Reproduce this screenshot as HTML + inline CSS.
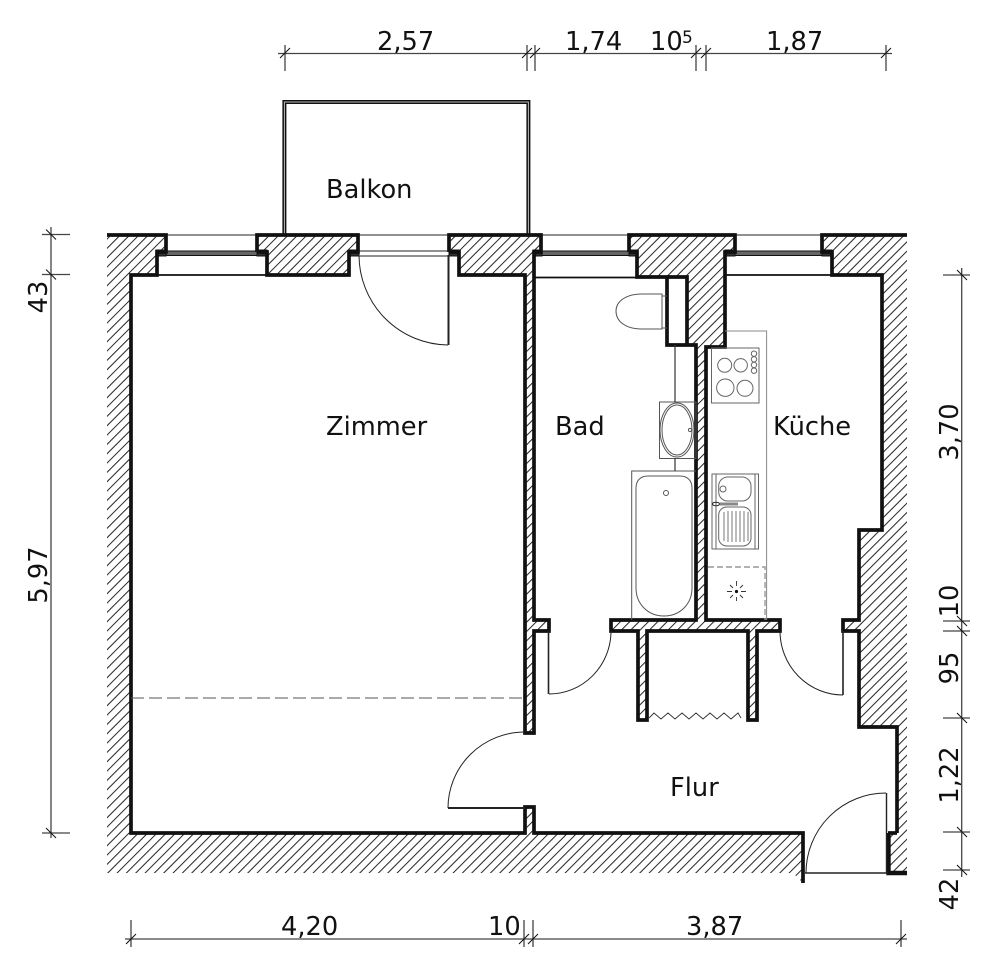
<!DOCTYPE html>
<html>
<head>
<meta charset="utf-8">
<style>
html,body{margin:0;padding:0;background:#fff}
svg{display:block}
text{font-family:"DejaVu Sans","Liberation Sans",sans-serif;font-size:25.7px;fill:#111}
</style>
</head>
<body>
<svg width="1000" height="971" viewBox="0 0 1000 971" xmlns="http://www.w3.org/2000/svg">
<defs>
<pattern id="h" patternUnits="userSpaceOnUse" width="6.6" height="6.6" patternTransform="rotate(45 0 0)">
<rect width="6.6" height="6.6" fill="#fff"/>
<rect x="0" y="0" width="1" height="6.6" fill="#222"/>
</pattern>
</defs>
<rect width="1000" height="971" fill="#fff"/>

<!-- hatch -->
<path d="M107,235H907V873H803V883L793,873H107Z" fill="url(#h)"/>
<!-- interior -->
<path fill="#fff" d="M131,833V275H157V252H166V235H257V252H267V275H349V252H358V235H449V252H459V275H525V733H534V631H549V620H534V252H541V235H629V252H637V277H687V345H696V620H611V631H638V720H647V631H748V720H757V631H780V620H706V347H725V252H735V235H822V252H832V275H882V530H859V620H843V631H859V727H897V833H888V873H803V833H534V807H525V833Z"/>
<rect x="667" y="277" width="20" height="68" fill="#fff"/>

<!-- balcony -->
<path d="M284.4,235V102H528.4V235" fill="none" stroke="#111" stroke-width="4"/>
<path d="M284.4,235V102H528.4V235" fill="none" stroke="#bbb" stroke-width="1"/>

<!-- windows -->
<g stroke="#222" stroke-width="1" fill="none">
<path d="M166,235H257M358,235H449M541,235H629M735,235H822"/>
<path d="M358,251H449M358,256H449"/>
</g>
<g fill="#666" stroke="#111" stroke-width="1">
<rect x="166" y="251" width="91" height="4.5"/>
<rect x="541" y="251" width="88" height="4.5"/>
<rect x="735" y="251" width="87" height="4.5"/>
</g>
<g fill="#333" stroke="#111" stroke-width="1">
<rect x="156" y="250" width="10" height="6"/><rect x="257" y="250" width="10" height="6"/>
<rect x="349" y="250" width="10" height="6"/><rect x="449" y="250" width="10" height="6"/>
<rect x="533" y="250" width="9" height="6"/><rect x="629" y="250" width="9" height="6"/>
<rect x="725" y="250" width="10" height="6"/><rect x="822" y="250" width="10" height="6"/>
</g>
<g stroke="#111" fill="none">
<path d="M157,275H267M534,277.5H637M725,275H832" stroke-width="1.8"/>
</g>

<!-- walls -->
<g fill="none" stroke="#111" stroke-width="3.7" stroke-linejoin="miter">
<path d="M107,235H166V252H157V275H131V833H525V807H534V833H803V883"/>
<path d="M257,252V235H358V252H349V275H267V252H257"/>
<path d="M449,252V235H541V252H534V620H549V631H534V733H525V275H459V252H449"/>
<path d="M629,252V235H735V252H725V347H706V620H780V631H757V720H748V631H647V720H638V631H611V620H696V345H667V277H637V252H629"/>
<path d="M667,277H687V345"/>
<path d="M907,235H822V252H832V275H882V530H859V620H843V631H859V727H897V833"/>
<path d="M888,833H897"/>
<path d="M888.5,833V873H907" stroke-width="4.4"/>
</g>

<!-- doors -->
<g fill="none" stroke="#222">
<path d="M359,255A90,90 0 0 0 448,345" stroke-width="1"/>
<path d="M448.5,255V345" stroke-width="2"/>
<path d="M611,631A62,63 0 0 1 549,694" stroke-width="1"/>
<path d="M548.5,631V694" stroke-width="1.6"/>
<path d="M780,631A63,64 0 0 0 843,695" stroke-width="1"/>
<path d="M843,631V695" stroke-width="1.6"/>
<path d="M525,732A77,76 0 0 0 448,808" stroke-width="1"/>
<path d="M448,808H525" stroke-width="2"/>
<path d="M886,793A80,80 0 0 0 806,873" stroke-width="1"/>
<path d="M886.5,793V873" stroke-width="1.4"/>
<path d="M805,873H888" stroke-width="1.6"/>
</g>
<!-- zigzag -->
<path d="M649,718L654,713L661,719L668,713L675,719L682,713L689,719L696,713L703,719L710,713L717,719L724,713L731,719L738,713L741,718" fill="none" stroke="#333" stroke-width="0.9"/>
<!-- dashed -->
<path d="M131,698H525" fill="none" stroke="#555" stroke-width="1" stroke-dasharray="13 5"/>

<!-- bathroom -->
<g fill="none" stroke="#555" stroke-width="1">
<path d="M662,294H642C625,294 616,302 616,311C616,321 625,329 642,329L662,329Z"/>
<path d="M662,296H667M662,328H667" />
<rect x="659.5" y="402" width="36.5" height="56.5"/>
<ellipse cx="677" cy="430" rx="17" ry="27"/>
<ellipse cx="677" cy="430" rx="15" ry="25"/>
<circle cx="690" cy="430" r="1.6"/>
<path d="M631.7,620V471H696"/>
<path d="M636,488C636,480 641,476 648,476H680C687,476 692,480 692,488V588C692,604 680,616 664,616C648,616 636,604 636,588Z"/>
<circle cx="666" cy="493" r="2.5"/>
</g>
<path d="M675,345V402M675,458V471" stroke="#333" stroke-width="1.2" fill="none"/>

<!-- kitchen -->
<g fill="none" stroke="#666" stroke-width="1">
<path d="M725,331H766.6V620" stroke="#888"/>
<rect x="711.5" y="348" width="47.5" height="55"/>
<circle cx="724.7" cy="365.3" r="7"/>
<circle cx="740.7" cy="365.3" r="6.7"/>
<circle cx="725.3" cy="387.7" r="8.7"/>
<circle cx="745" cy="388.3" r="8"/>
<circle cx="754" cy="353.7" r="2.7"/>
<circle cx="754" cy="359.3" r="2.7"/>
<circle cx="754" cy="365" r="2.7"/>
<circle cx="754" cy="370.7" r="2.7"/>
<rect x="712" y="474" width="46.5" height="75"/>
<path d="M716,474V549M755,474V549"/>
<rect x="718.7" y="477" width="32.3" height="24" rx="9"/>
<circle cx="723" cy="489" r="3"/>
<rect x="718.7" y="507" width="32.3" height="39" rx="8"/>
<path d="M724,512V541M728,511V542M732,511V542M736,511V542M740,511V542M744,511V542M748,512V541" stroke="#777"/>
<ellipse cx="716" cy="504" rx="3.5" ry="1.8" stroke="#222"/>
<path d="M720,504H738" stroke="#888" stroke-width="3"/>
<path d="M708,567H765V620" stroke="#999" stroke-width="1.4" stroke-dasharray="6 3"/>
<path d="M736.5,581V586M736.5,597V601M727,591.5H732M741,591.5H746M730,585L733,588M743,585L740,588M730,598L733,595M743,598L740,595" stroke="#333" stroke-width="0.9"/>
</g>
<circle cx="736.5" cy="591.5" r="1.6" fill="#111"/>

<!-- dimension lines -->
<g fill="none" stroke="#444" stroke-width="1.3">
<path d="M278,53.5H892"/>
<path d="M285,45V71M527,45V71M535,45V71M696,45V71M706,45V71M886,45V71"/>
<path d="M125,939H907"/>
<path d="M131,920V947M524,920V947M533,920V947M901,920V947"/>
<path d="M51,227V838"/>
<path d="M42,234.5H70M42,274.5H70M42,833H70"/>
<path d="M961.7,268V877"/>
<path d="M943,275H970M943,621H970M943,631H970M943,718H970M943,832H970M943,870H970"/>
</g>
<g fill="none" stroke="#111" stroke-width="1">
<path d="M280,58L290,48M522,58L532,48M530,58L540,48M691,58L701,48M701,58L711,48M881,58L891,48"/>
<path d="M126,944L136,934M519,944L529,934M528,944L538,934M896,944L906,934"/>
<path d="M46,229.5L56,239.5M46,269.5L56,279.5M46,828L56,838"/>
<path d="M957,270L967,280M957,616L967,626M957,626L967,636M957,713L967,723M957,827L967,837M957,865L967,875"/>
</g>

<!-- labels -->
<text x="326" y="198">Balkon</text>
<text x="326" y="435">Zimmer</text>
<text x="555" y="435">Bad</text>
<text x="773" y="435">Küche</text>
<text x="670" y="796">Flur</text>

<text x="377" y="50">2,57</text>
<text x="565" y="50">1,74</text>
<text x="650" y="50">10</text>
<text x="682" y="43" style="font-size:17px">5</text>
<text x="766" y="50">1,87</text>
<text x="281" y="935">4,20</text>
<text x="488" y="935">10</text>
<text x="686" y="935">3,87</text>

<text transform="translate(47,297) rotate(-90)" text-anchor="middle">43</text>
<text transform="translate(47,575) rotate(-90)" text-anchor="middle">5,97</text>
<text transform="translate(958,432) rotate(-90)" text-anchor="middle">3,70</text>
<text transform="translate(958,601) rotate(-90)" text-anchor="middle">10</text>
<text transform="translate(958,668) rotate(-90)" text-anchor="middle">95</text>
<text transform="translate(958,775) rotate(-90)" text-anchor="middle">1,22</text>
<text transform="translate(958,894) rotate(-90)" text-anchor="middle">42</text>
</svg>
</body>
</html>
